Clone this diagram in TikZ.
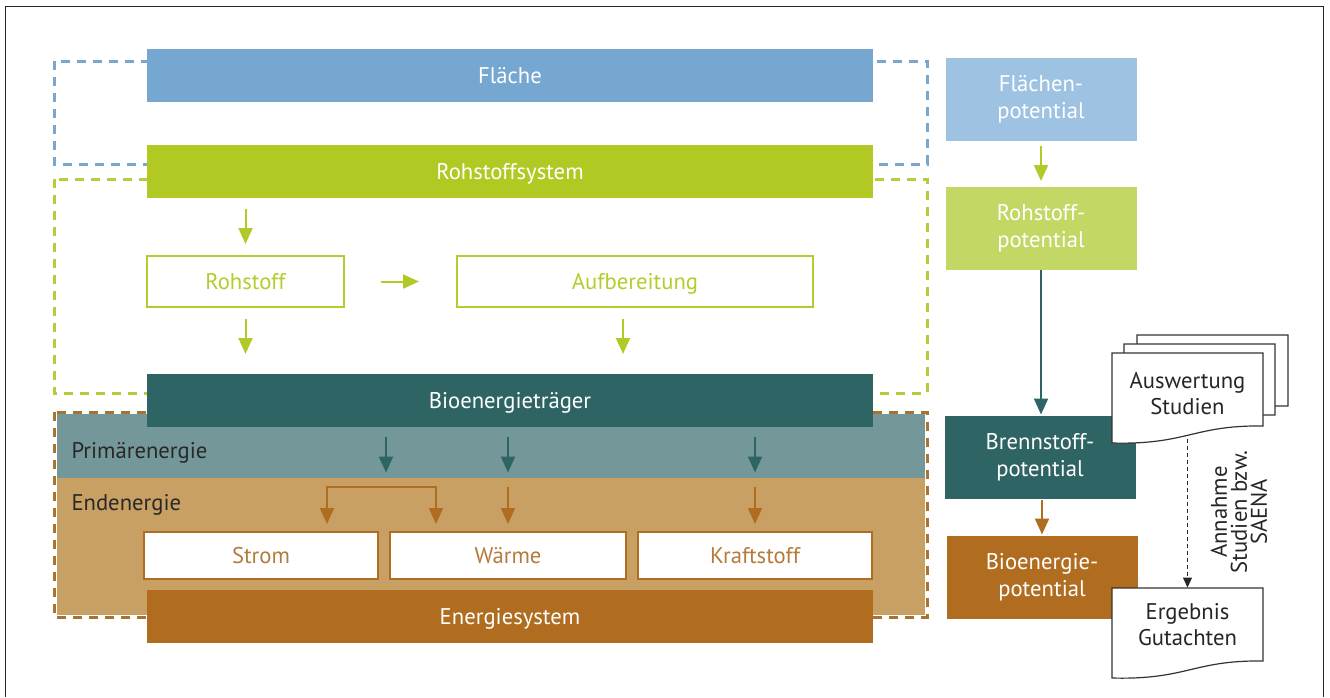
\documentclass[tikz,border=0pt]{standalone}
\usepackage{fontspec}
\setmainfont{PT Sans}
\usetikzlibrary{arrows.meta,calc}

\definecolor{flblue}{RGB}{118,167,209}
\definecolor{flblue2}{RGB}{158,194,226}
\definecolor{rsgreen}{RGB}{179,201,35}
\definecolor{rsgreen2}{RGB}{195,216,100}
\definecolor{boxgreen}{RGB}{181,204,45}
\definecolor{arrgreen}{RGB}{178,201,40}
\definecolor{bioteal}{RGB}{47,100,100}
\definecolor{primgrey}{RGB}{116,151,154}
\definecolor{endtan}{RGB}{201,160,99}
\definecolor{enbrown}{RGB}{176,108,31}
\definecolor{strtext}{RGB}{180,124,60}
\definecolor{dashblue}{RGB}{122,166,206}
\definecolor{dashgreen}{RGB}{183,204,58}
\definecolor{dashbrown}{RGB}{168,116,50}
\definecolor{labeldark}{RGB}{40,40,40}

\tikzset{every picture/.style={line width=0.75pt}}
\tikzset{
  bar/.style={minimum width=544.5pt, minimum height=39.75pt, inner sep=0pt, text=white, text height=13pt, text depth=1pt},
  potbox/.style={minimum width=143.25pt, minimum height=62.25pt, inner sep=0pt, text=white, align=center, font=\fontsize{17}{20.25}\selectfont},
  gbox/.style={draw=boxgreen, line width=1.5pt, fill=white, text=boxgreen, minimum height=38.25pt, inner sep=0pt, text height=13pt, text depth=1pt},
  ebox/.style={draw=enbrown, line width=1.5pt, fill=white, text=strtext, minimum width=175.5pt, minimum height=35.25pt, inner sep=0pt, text height=13pt, text depth=1pt},
  band/.style={minimum width=651pt, inner sep=0pt},
  dashbox/.style={line width=2.25pt, dash pattern=on 6.75pt off 5.25pt},
  arr/.style={line width=1.5pt, -{Triangle[length=12pt,width=10.5pt]}},
  docline/.style={draw=black!80, fill=white, line width=0.9pt},
  doctext/.style={align=center, text=black!85, minimum width=113.25pt, inner sep=0pt, font=\fontsize{17}{19.5}\selectfont}
}

% sheet with wavy lower edge: x0, ytop, x1, yright
\newcommand{\docsheet}[4]{%
  \draw [docline] (#1,#2) -- (#3,#2) -- (#3,#4) .. controls (#3-70,#4-1) and (#1+75,#4+19) .. (#1,#4+17) -- cycle;}

\begin{document}
\begin{tikzpicture}[x=0.75pt,y=0.75pt,yscale=-1,font=\fontsize{17}{20}\selectfont]
\useasboundingbox (0,0) rectangle (1330,697);

%Frame
\draw [black!85] (5,697) -- (5,6) -- (1323,6) -- (1323,697);

%Shape: dashed groups
\draw [dashbox, dashblue] (54,61) rectangle (927,164);
\draw [dashbox, dashgreen] (54,179) rectangle (927,393);

%Shape: energy bands
\node [band, fill=primgrey, minimum height=48pt] (primband) at (491,446) {};
\node [band, fill=endtan, minimum height=102.75pt] (endband) at (491,546.5) {};
\draw [dashbox, dashbrown] (54,412) rectangle (927,617);

%Bars
\node [bar, fill=flblue] (flaeche) at (510,75.5) {Fläche};
\node [bar, fill=rsgreen] (rohsys) at (510,171.5) {Rohstoffsystem};
\node [bar, fill=bioteal] (bioet) at (510,400) {Bioenergieträger};
\node [bar, fill=enbrown] (ensys) at (510,616.5) {Energiesystem};

%Boxes
\node [gbox, minimum width=147.75pt] (rohstoff) at (245.5,281.5) {Rohstoff};
\node [gbox, minimum width=267pt] (aufb) at (635,281.5) {Aufbereitung};
\node [ebox] (strom) at (261,555.5) {Strom};
\node [ebox, minimum width=177pt] (waerme) at (508,555.5) {Wärme};
\node [ebox] (kraft) at (755,555.5) {Kraftstoff};

% Text Node
\node [anchor=west, text=labeldark, inner sep=0pt] (primlabel) at (71,453) {Primärenergie};
% Text Node
\node [anchor=west, text=labeldark, inner sep=0pt] (endlabel) at (71,505) {Endenergie};

%Potentials
\node [potbox, fill=flblue2] (flpot) at (1041,99.5) {Flächen-\\potential};
\node [potbox, fill=rsgreen2] (rohpot) at (1041,228) {Rohstoff-\\potential};
\node [potbox, fill=bioteal] (brennpot) at (1040,457.5) {Brennstoff-\\potential};
\node [potbox, fill=enbrown] (biopot) at (1042,577.5) {Bioenergie-\\potential};

%Arrows: raw material chain
\draw [arr, arrgreen, shorten <=7.5pt, shorten >=8.25pt] (rohsys.south -| rohstoff) -- (rohstoff.north);
\draw [arr, arrgreen, shorten <=27pt, shorten >=27.75pt] (rohstoff.east) -- (aufb.west);
\draw [arr, arrgreen, shorten <=8.25pt, shorten >=14.25pt] (rohstoff.south) -- (rohstoff.south |- bioet.north);
\draw [arr, arrgreen, shorten <=8.25pt, shorten >=14.25pt] ([xshift=-9pt]aufb.south) -- ([xshift=-9pt]aufb.south |- bioet.north);

%Arrows: energy
\coordinate (split) at (386,487);
\coordinate (splitL) at (327,487);
\coordinate (splitR) at (436,487);
\draw [arr, bioteal, shorten <=7.5pt, shorten >=4.5pt] (bioet.south -| split) -- (primband.south -| split);
\draw [arr, bioteal, shorten <=7.5pt, shorten >=4.5pt] (bioet.south -| waerme) -- (primband.south -| waerme);
\draw [arr, bioteal, shorten <=7.5pt, shorten >=4.5pt] (bioet.south -| kraft) -- (primband.south -| kraft);
\draw [enbrown, line width=1.5pt, {Triangle[length=12pt,width=10.5pt]}-{Triangle[length=12pt,width=10.5pt]}, shorten <=5.25pt, shorten >=5.25pt] (strom.north -| splitL) -- (splitL) -- (splitR) -- (waerme.north -| splitR);
\draw [arr, enbrown, shorten <=6.75pt, shorten >=5.25pt] (endband.north -| waerme) -- (waerme.north);
\draw [arr, enbrown, shorten <=6.75pt, shorten >=5.25pt] (endband.north -| kraft) -- (kraft.north);

%Arrows: potentials
\draw [arr, arrgreen, shorten <=3pt, shorten >=3.75pt] (flpot.south) -- (rohpot.north);
\draw [arr, bioteal, shorten >=0.75pt] (rohpot.south) -- (rohpot.south |- brennpot.north);
\draw [arr, enbrown, shorten >=0.75pt] (brennpot.south -| biopot) -- (biopot.north);

%Shape: documents
\docsheet{1137}{335}{1288}{406}
\docsheet{1124}{344}{1275}{415}
\docsheet{1112}{353}{1263}{426}
\docsheet{1112}{588}{1263}{661}

% Text Node
\node [doctext, minimum height=61.5pt] (auswert) at (1187.5,394) {Auswertung\\Studien};
% Text Node
\node [doctext, minimum height=54.75pt] (ergebnis) at (1187.5,624.5) {Ergebnis\\Gutachten};
\draw [black!85, line width=0.75pt, dash pattern=on 3pt off 2.25pt, -{Triangle[length=7.5pt,width=6.75pt]}, shorten <=2.25pt] (auswert.south) -- (ergebnis.north);
% Text Node
\node [rotate=90, align=center, text=black!85, font=\fontsize{17}{15}\selectfont] (annahme) at (1239,512) {Annahme\\Studien bzw.\\SAENA};

\end{tikzpicture}
\end{document}
